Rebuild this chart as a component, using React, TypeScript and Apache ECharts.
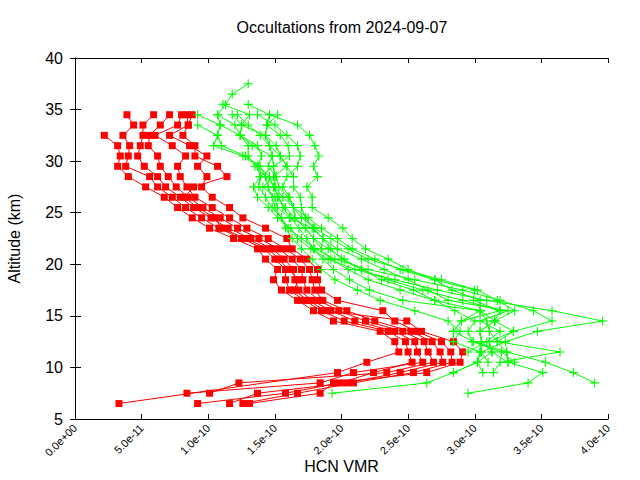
import React, { useEffect, useRef } from "react";
import * as echarts from "echarts";

const _ = null;

// altitude levels (km) shared by every profile
const altitudes = [
  6.5, 7.5, 8.5, 9.5, 10.5, 11.5, 12.5, 13.5, 14.5, 15.5, 16.5, 17.5, 18.5, 19.5, 20.5, 21.5,
  22.5, 23.5, 24.5, 25.5, 26.5, 27.5, 28.5, 29.5, 30.5, 31.5, 32.5, 33.5, 34.5, 35.5, 36.5, 37.5,
];

const xTickLabels = ["0.0e+00", "5.0e-11", "1.0e-10", "1.5e-10", "2.0e-10", "2.5e-10", "3.0e-10", "3.5e-10", "4.0e-10"];

// HCN VMR values in units of 1e-11, aligned with altitudes (null = no point)
const red1 = [3.3, _, _, 19.7, 21.9, 24.3, 24.0, 22.9, 19.4, 17.9, 16.7, 15.5, 14.9, 15.2, 14.3, 13.7, 11.9, 10.1, 8.8, 7.7, 6.7, 5.3, 4.0, 3.2, 3.4, 3.2, 2.2, _, _, _, _, _];
const red2 = [9.2, 15.8, 19.9, 22.4, 25.3, 25.0, 24.8, 23.5, 20.2, 18.5, 17.2, 16.1, 15.8, 15.8, 15.0, 14.2, 12.5, 10.8, 9.5, 8.3, 7.3, 6.2, 5.6, 3.8, 4.0, 4.1, 3.6, 4.4, 3.9, _, _, _];
const red3 = [_, 8.4, 18.4, 20.9, 26.1, 25.7, 25.5, 24.0, 21.0, 19.2, 17.8, 16.8, 16.5, 16.4, 15.7, 14.8, 13.2, 11.5, 10.2, 8.9, 7.9, 6.8, 6.2, 5.2, 4.7, 4.9, 5.1, 5.1, 5.9, _, _, _];
const red4 = [_, 10.1, 12.3, 23.4, 26.9, 26.5, 26.2, 24.6, 21.8, 19.8, 18.3, 17.4, 17.1, 17.0, 16.3, 15.3, 13.8, 12.2, 10.9, 9.6, 8.5, 7.6, 7.0, 6.4, 6.2, 5.5, 5.6, 6.4, 7.1, _, _, _];
const red5 = [11.6, 13.7, 20.4, 24.4, 27.6, 27.4, 26.8, 25.2, 22.5, 20.4, 18.6, 18.0, 17.8, 17.6, 16.9, 15.8, 14.5, 12.9, 11.6, 10.3, 9.0, 8.4, 7.9, 7.7, 8.3, 7.3, 6.0, 7.7, 8.0, _, _, _];
const red6 = [12.6, 16.7, 20.9, 25.4, 28.3, 28.2, 27.5, 25.6, 24.0, 23.1, 19.7, 18.5, 18.2, 18.2, 17.4, 16.3, 15.9, 14.3, 12.6, 11.6, 10.3, 9.5, 9.9, 9.2, 9.9, 8.6, 7.1, 8.5, 8.4, _, _, _];
const red7 = [13.1, 18.4, 19.4, 26.4, 28.9, 29.1, 28.4, 26.0, 24.9, 18.8, 17.5, 16.4, 16.8, 16.0, 15.3, 14.5, 12.8, 11.0, 10.5, 9.2, 8.2, 8.9, 11.4, 10.7, 9.0, 9.0, 8.1, 8.5, 8.8, _, _, _];

const green1 = [_, 19.3, 26.4, 28.4, 30.2, 30.4, 30.5, 30.4, 31.5, 31.9, 29.1, 26.1, 23.5, 21.5, 20.0, 19.2, 18.6, 17.9, 17.3, 17.0, 16.9, 16.4, 16.4, 15.9, 15.4, 14.6, 13.9, 13.0, 12.2, _, _, _];
const green2 = [_, 29.5, 34.0, 35.1, 32.5, 31.3, 31.1, 32.9, 35.8, 34.4, 31.9, 29.1, 25.5, 22.0, 19.5, 18.0, 17.0, 16.0, 15.5, 15.0, 14.8, 14.5, 14.3, 13.9, 12.8, 11.0, 10.7, 10.9, 10.7, 11.3, 11.8, 13.0];
const green3 = [_, _, 39.0, 37.4, 35.3, 32.4, 29.9, 28.4, 29.0, 30.4, 27.0, 24.4, 22.0, 20.5, 19.2, 18.5, 17.9, 17.3, 16.5, 15.8, 15.2, 15.0, 15.0, 14.9, 14.8, 14.6, 14.3, 14.4, 14.6, 13.0, _, _];
const green4 = [_, _, _, 31.4, 31.9, 36.4, 31.7, 31.1, 30.9, 30.4, 30.4, 28.3, 27.0, 24.4, 22.5, 20.8, 19.7, 18.5, 17.5, 16.4, 16.1, 15.6, 15.9, 16.7, 16.9, 16.7, 15.9, 15.0, 13.7, _, _, _];
const green5 = [_, _, _, _, 31.0, 30.5, 32.3, 34.7, 39.6, 35.8, 30.9, 27.2, 24.0, 21.0, 19.0, 17.7, 16.7, 16.2, 15.2, 14.5, 13.7, 13.4, 13.9, 14.9, 16.1, 16.0, 15.4, 14.4, 15.2, _, _, _];
const green6 = [_, _, _, 30.6, 30.2, 30.4, 28.4, 28.4, 29.0, 31.9, 29.9, 30.0, 27.0, 25.0, 23.5, 21.8, 20.8, 20.1, 19.0, 17.8, 17.8, 17.4, 18.2, 17.9, 18.3, 18.0, 17.6, 16.7, 14.6, _, _, _];
const green7 = [_, _, _, _, _, 29.5, 30.9, 31.9, 30.4, 32.5, 28.0, 26.5, 25.0, 23.2, 21.5, 19.7, 18.6, 17.8, 16.1, 15.2, 15.0, 14.1, 14.9, 15.9, 15.4, 15.1, 14.3, 12.5, 11.8, _, _, _];
const green8 = [_, _, _, _, _, _, 28.4, 28.9, 28.0, 25.5, 22.9, 21.2, 19.5, 18.5, 17.8, 17.0, 16.3, 15.8, 15.5, 14.8, 14.3, 13.8, 13.9, 13.7, 14.0, 13.7, 12.4, 10.9, 9.2, _, _, _];
const green9 = [_, _, _, 28.4, 30.2, 31.3, 30.5, 30.4, 31.5, 30.4, 24.6, 22.1, 20.6, 19.4, 18.6, 17.9, 17.4, 16.8, 16.2, 15.6, 15.3, 14.9, 14.6, 13.8, 12.6, 10.4, 10.7, 9.2, _, _, _, _];
const green10 = [_, _, _, _, 33.0, 32.0, 29.8, 29.5, 30.0, 28.5, 27.0, 25.4, 23.0, 21.5, 20.2, 19.0, 17.9, 17.3, 16.5, 16.4, 16.0, 15.3, 15.1, 14.5, 14.8, 13.3, 12.4, 12.0, 10.7, _, _, _];
const green11 = [_, _, _, _, 32.5, 32.4, 31.7, 32.9, 31.5, 33.0, 31.7, 30.2, 27.5, 24.6, 22.0, 20.5, 19.2, 18.0, 17.0, 16.4, 15.6, 15.0, 14.3, 13.5, 13.0, 13.0, 12.4, 12.5, 13.1, 11.1, _, _];

const redProfiles = [red1, red2, red3, red4, red5, red6, red7];
const greenProfiles = [green1, green2, green3, green4, green5, green6, green7, green8, green9, green10, green11];

const FONT = "'Liberation Sans', Arial, sans-serif";
const PLUS = "path://M3.5,0H4.5V3.5H8V4.5H4.5V8H3.5V4.5H0V3.5H3.5Z";

function toData(vals: (number | null)[]) {
  const out: number[][] = [];
  vals.forEach((v, i) => {
    if (v !== null) out.push([v, altitudes[i]]);
  });
  return out;
}

export default function App() {
  const ref = useRef<HTMLDivElement>(null);
  useEffect(() => {
    if (!ref.current) return;
    const chart = echarts.init(ref.current, null, { renderer: "svg" });
    const series: any[] = [];
    redProfiles.forEach((p, i) =>
      series.push({
        name: "red" + i,
        type: "line",
        data: toData(p),
        symbol: "rect",
        symbolSize: 7,
        itemStyle: { color: "#ff0000" },
        lineStyle: { color: "#ff0000", width: 1 },
        xAxisIndex: 0,
        yAxisIndex: 0,
      })
    );
    greenProfiles.forEach((p, i) =>
      series.push({
        name: "green" + i,
        type: "line",
        data: toData(p),
        symbol: PLUS,
        symbolSize: 9,
        itemStyle: { color: "#00ff00" },
        lineStyle: { color: "#00ff00", width: 1 },
        xAxisIndex: 0,
        yAxisIndex: 0,
      })
    );
    const axisLine = { show: true, lineStyle: { color: "#000", width: 1 } };
    chart.setOption({
      animation: false,
      backgroundColor: "#fff",
      title: {
        text: "Occultations from 2024-09-07",
        left: 337,
        top: 14,
        textAlign: "center",
        textStyle: { fontFamily: FONT, fontSize: 16, fontWeight: "normal", color: "#000" },
      },
      grid: { left: 75, right: 32, top: 58, bottom: 61, containLabel: false, outerBoundsMode: "none" },
      xAxis: [
        {
          type: "value",
          min: 0,
          max: 40,
          interval: 5,
          position: "bottom",
          axisLine,
          axisTick: { show: true, inside: true, length: 5, lineStyle: { color: "#000" } },
          splitLine: { show: false },
          axisLabel: {
            rotate: 45,
            fontSize: 11,
            fontFamily: FONT,
            color: "#000",
            margin: 7,
            formatter: (v: number) => xTickLabels[Math.round(v / 5)] ?? "",
          },
          name: "HCN VMR",
          nameLocation: "middle",
          nameGap: 39,
          nameMoveOverlap: false,
          nameTextStyle: { fontFamily: FONT, fontSize: 16, color: "#000" },
        },
        {
          type: "value",
          min: 0,
          max: 40,
          interval: 5,
          position: "top",
          axisLine,
          axisTick: { show: true, inside: true, length: 5, lineStyle: { color: "#000" } },
          axisLabel: { show: false },
          splitLine: { show: false },
        },
      ],
      yAxis: [
        {
          type: "value",
          min: 5,
          max: 40,
          interval: 5,
          position: "left",
          axisLine,
          axisTick: { show: true, inside: true, length: 6, lineStyle: { color: "#000" } },
          splitLine: { show: false },
          axisLabel: { fontSize: 16, fontFamily: FONT, color: "#000", margin: 12 },
          name: "Altitude (km)",
          nameLocation: "middle",
          nameGap: 53,
          nameRotate: 90,
          nameMoveOverlap: false,
          nameTextStyle: { fontFamily: FONT, fontSize: 16, color: "#000" },
        },
        {
          type: "value",
          min: 5,
          max: 40,
          interval: 5,
          position: "right",
          axisLine,
          axisTick: { show: true, inside: true, length: 5, lineStyle: { color: "#000" } },
          axisLabel: { show: false },
          splitLine: { show: false },
        },
      ],
      series,
    });
    return () => chart.dispose();
  }, []);
  return (
    <div
      ref={ref}
      style={{ position: "fixed", left: 0, top: 0, width: 640, height: 480, background: "#fff" }}
    />
  );
}
